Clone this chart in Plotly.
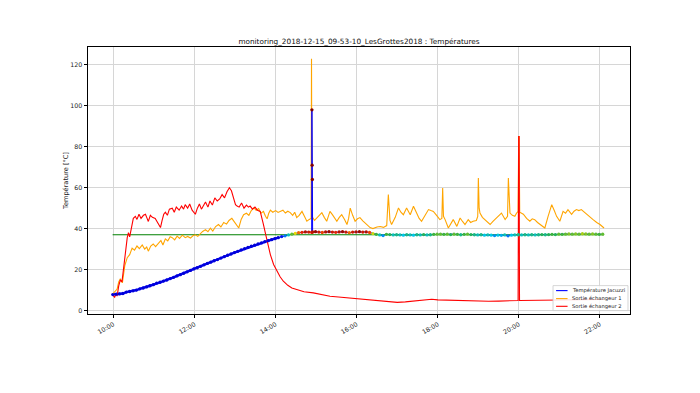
import pandas as pd
import plotly.graph_objects as go

DAY = "2018-12-15"
TITLE = "monitoring_2018-12-15_09-53-10_LesGrottes2018 : Températures"
Y_LABEL = "Température [°C]"
NAMES = ["Température Jacuzzi", "Sortie échangeur 1", "Sortie échangeur 2"]
COLORS = ["blue", "orange", "red"]
TICK_HOURS = ["10:00", "12:00", "14:00", "16:00", "18:00", "20:00", "22:00"]
Y_TICKS = [0, 20, 40, 60, 80, 100, 120]

# Jacuzzi temperature, one sample every 5 minutes from 09:59
jac_start = "09:59"
jac_vals = [
    7.8, 8.0, 8.1, 8.3, 9.0, 9.3, 9.6, 10.0, 10.6, 11.0,
    11.5, 12.1, 12.6, 13.4, 13.8, 14.4, 14.9, 15.6, 16.2, 16.9,
    17.5, 18.2, 18.9, 19.6, 20.3, 20.9, 21.6, 22.3, 23.0, 23.6,
    24.3, 24.9, 25.6, 26.3, 27.0, 27.6, 28.3, 28.9, 29.6, 30.2,
    30.8, 31.4, 31.9, 32.5, 33.0, 33.6, 34.1, 34.6, 35.1, 35.6,
    36.1, 36.5, 36.9, 37.3, 37.7, 38.0, 38.2, 38.4, 38.3, 38.2,
    38.5, 38.3, 38.1, 38.4, 38.5, 38.3, 38.2, 38.4, 38.5, 38.3,
    38.0, 38.3, 38.4, 38.5, 38.3, 38.4, 38.1, 37.6, 37.2, 36.9,
    36.6, 37.2, 37.1, 36.9, 37.0, 36.9, 36.8, 37.0, 36.9, 36.8,
    37.0, 36.9, 37.1, 36.9, 37.0, 37.2, 37.3, 37.3, 37.2, 37.3,
    37.1, 37.3, 37.2, 37.0, 37.2, 37.3, 37.1, 37.0, 36.9, 37.0,
    36.8, 36.9, 36.8, 36.6, 36.8, 36.7, 36.9, 36.5, 36.8, 36.9,
    37.0, 36.9, 37.0, 36.9, 37.0, 36.9, 37.0, 37.1, 37.0, 37.1,
    37.2, 37.1, 37.3, 37.2, 37.3, 37.4, 37.3, 37.4, 37.3, 37.5,
    37.4, 37.3, 37.4, 37.3, 37.2, 37.3,
]
jac_heating_samples = 50  # samples before the set-point is reached (thick part)

# short spike of the jacuzzi probe around 14:54
jac_spike_hours = [14.889, 14.895, 14.900, 14.906, 14.912]
jac_spike_vals = [38.2, 98.0, 71.0, 64.0, 38.4]

# set-point
consigne_hours = [9.98, 22.10]
consigne_vals = [37.0, 37.0]

ech1_hours = [
    9.98, 10.03, 10.09, 10.13, 10.17, 10.22, 10.28, 10.34, 10.40, 10.46,
    10.52, 10.58, 10.64, 10.71, 10.77, 10.82, 10.86, 10.92, 10.98, 11.04,
    11.11, 11.17, 11.22, 11.28, 11.34, 11.40, 11.45, 11.51, 11.57, 11.63,
    11.70, 11.77, 11.83, 11.90, 11.96, 12.02, 12.08, 12.14, 12.20, 12.27,
    12.33, 12.39, 12.45, 12.52, 12.59, 12.65, 12.72, 12.79, 12.85, 12.92,
    12.98, 13.04, 13.09, 13.15, 13.21, 13.28, 13.34, 13.40, 13.46, 13.52,
    13.58, 13.64, 13.70, 13.75, 13.79, 13.83, 13.87, 13.93, 14.00, 14.06,
    14.11, 14.18, 14.24, 14.30, 14.36, 14.42, 14.47, 14.52, 14.58, 14.65,
    14.71, 14.77, 14.83, 14.875, 14.885, 14.895, 14.96, 15.02, 15.08, 15.14,
    15.20, 15.26, 15.30, 15.34, 15.40, 15.46, 15.51, 15.57, 15.63, 15.70,
    15.76, 15.80, 15.84, 15.90, 15.96, 16.02, 16.08, 16.15, 16.25, 16.33,
    16.40, 16.50, 16.58, 16.66, 16.74, 16.78, 16.82, 16.86, 16.95, 17.03,
    17.09, 17.15, 17.23, 17.32, 17.40, 17.48, 17.54, 17.60, 17.68, 17.77,
    17.83, 17.89, 17.97, 18.05, 18.10, 18.12, 18.14, 18.18, 18.26, 18.32,
    18.38, 18.47, 18.55, 18.61, 18.67, 18.75, 18.81, 18.87, 18.95, 18.985,
    19.00, 19.02, 19.04, 19.10, 19.16, 19.22, 19.29, 19.36, 19.45, 19.51,
    19.57, 19.66, 19.72, 19.74, 19.76, 19.78, 19.84, 19.90, 19.94, 19.98,
    19.995, 20.005, 20.02, 20.11, 20.19, 20.27, 20.33, 20.39, 20.46, 20.52,
    20.58, 20.64, 20.72, 20.81, 20.87, 20.93, 21.01, 21.09, 21.15, 21.21,
    21.30, 21.36, 21.42, 21.48, 21.54, 21.60, 21.67, 21.75, 21.83, 21.92,
    22.00, 22.10,
]
ech1_vals = [
    8.0, 9.4, 10.5, 14.0, 15.5, 13.5, 22.0, 25.8, 27.3, 30.5,
    29.5, 31.5, 30.2, 32.0, 30.0, 31.0, 29.0, 31.5, 32.5, 31.2,
    33.0, 34.2, 32.0, 35.0, 34.0, 36.0, 35.6, 34.5, 36.3, 35.2,
    36.8, 35.6, 36.2, 35.4, 36.5, 37.0, 36.2, 37.5, 38.6, 39.5,
    38.5, 40.2, 38.8, 41.0, 42.0, 40.8, 43.0, 42.2, 44.0, 45.0,
    43.5, 41.5, 40.3, 44.5, 46.8, 47.5, 46.5, 48.8, 50.1, 49.0,
    49.8, 47.5, 48.4, 46.0, 44.8, 47.5, 49.0, 48.0, 48.8, 47.9,
    48.4, 49.0, 47.6, 48.5, 47.8, 46.5, 48.0, 45.4, 46.5, 48.4,
    46.0, 43.6, 44.5, 45.0, 123.0, 46.0, 44.0, 45.4, 46.5, 47.8,
    45.5, 43.6, 46.0, 48.4, 46.8, 45.0, 43.6, 45.5, 46.8, 44.5,
    42.0, 45.0, 50.0, 46.5, 43.6, 44.8, 45.4, 43.8, 42.0, 40.5,
    40.0, 40.8, 41.0, 40.6, 41.5, 56.6, 44.0, 42.0, 45.5, 50.1,
    48.0, 46.8, 50.1, 46.8, 50.9, 47.6, 45.0, 43.6, 46.5, 49.3,
    48.8, 48.4, 46.5, 44.4, 45.0, 59.8, 46.0, 44.4, 40.3, 42.5,
    44.4, 41.1, 45.2, 43.5, 42.0, 44.4, 43.0, 43.6, 44.0, 46.0,
    64.7, 50.0, 47.6, 45.5, 44.4, 43.0, 42.0, 43.5, 45.2, 46.5,
    47.6, 44.4, 46.0, 64.7, 49.0, 47.6, 46.5, 46.0, 47.5, 48.4,
    85.0, 85.0, 48.0, 47.0, 45.0, 43.6, 44.8, 44.4, 43.0, 42.0,
    41.0, 40.3, 46.0, 51.7, 49.0, 46.0, 43.6, 48.4, 47.5, 49.3,
    47.0, 48.5, 49.3, 48.8, 49.3, 48.2, 47.0, 45.8, 44.4, 43.0,
    42.0, 40.3,
]

ech2_hours = [
    9.98, 10.03, 10.07, 10.09, 10.13, 10.17, 10.21, 10.26, 10.30, 10.34,
    10.37, 10.40, 10.44, 10.49, 10.54, 10.58, 10.63, 10.68, 10.74, 10.79,
    10.83, 10.86, 10.91, 10.96, 11.03, 11.08, 11.12, 11.16, 11.20, 11.24,
    11.28, 11.33, 11.38, 11.45, 11.50, 11.55, 11.62, 11.68, 11.73, 11.77,
    11.83, 11.88, 11.94, 11.98, 12.02, 12.07, 12.12, 12.17, 12.22, 12.27,
    12.33, 12.38, 12.44, 12.50, 12.56, 12.62, 12.68, 12.74, 12.80, 12.86,
    12.91, 12.96, 13.01, 13.05, 13.10, 13.16, 13.22, 13.28, 13.33, 13.37,
    13.43, 13.49, 13.55, 13.62, 13.66, 13.70, 13.75, 13.79, 13.87, 13.95,
    14.03, 14.11, 14.19, 14.30, 14.40, 14.52, 14.70, 14.93, 15.15, 15.34,
    15.55, 15.76, 15.95, 16.17, 16.40, 16.58, 16.80, 17.00, 17.20, 17.45,
    17.70, 17.85, 18.00, 18.25, 18.50, 18.75, 19.00, 19.25, 19.50, 19.75,
    19.98, 19.995, 20.005, 20.015, 20.25, 20.50, 20.75, 21.00, 21.25, 21.50,
    21.75, 22.00, 22.10,
]
ech2_vals = [
    7.5, 6.5, 8.5, 7.0, 12.0, 15.0, 14.0, 22.0, 30.0, 35.6,
    38.0, 36.0, 40.0, 45.0, 46.0, 44.5, 47.0, 45.0, 46.5, 47.0,
    45.0, 43.5, 46.5, 45.5, 45.0, 43.0, 41.5, 40.5, 44.0, 47.0,
    48.0, 46.5, 49.5, 50.0, 48.0, 50.5, 49.0, 51.0, 49.5, 51.7,
    50.0, 52.0, 49.0, 48.0, 47.0, 50.0, 52.0, 49.5, 51.0, 53.0,
    50.5, 53.5, 51.5, 55.0, 53.5, 54.5, 56.6, 55.0, 58.0, 60.0,
    58.5, 55.0, 51.7, 51.0, 50.5, 52.5, 50.0, 51.5, 50.5, 51.0,
    49.5, 50.5, 49.0, 48.4, 45.5, 42.0, 37.5, 33.8, 27.3, 22.5,
    19.2, 16.5, 14.3, 12.3, 11.0, 10.2, 9.2, 8.6, 7.6, 7.0,
    6.6, 6.2, 5.8, 5.4, 4.9, 4.5, 4.2, 4.0, 4.2, 4.6,
    5.2, 5.5, 5.2, 5.0, 4.8, 4.6, 4.5, 4.5, 4.6, 4.8,
    4.9, 85.0, 85.0, 4.9, 5.0, 5.0, 5.1, 5.2, 5.2, 5.3,
    5.3, 5.4, 5.4,
]


def to_time(hours):
    return pd.Timestamp(DAY) + pd.to_timedelta(hours, unit="h")


jac_time = list(pd.date_range(f"{DAY} {jac_start}", periods=len(jac_vals), freq="5min"))
jac_spike_time = list(to_time(jac_spike_hours))

jet_like = [
    [0.0, "rgb(0,0,215)"], [0.12, "rgb(0,40,255)"], [0.33, "rgb(0,200,235)"],
    [0.46, "rgb(40,175,70)"], [0.66, "rgb(235,225,0)"], [0.84, "rgb(240,40,0)"],
    [1.0, "rgb(130,0,0)"],
]

fig = go.Figure()

# jacuzzi line (thick while heating, thin afterwards), under the set-point line
n = jac_heating_samples
fig.add_trace(go.Scatter(x=jac_time[:n], y=jac_vals[:n], mode="lines",
                         line=dict(color=COLORS[0], width=2.4), showlegend=False))
fig.add_trace(go.Scatter(x=jac_time[n - 1:], y=jac_vals[n - 1:], mode="lines",
                         line=dict(color=COLORS[0], width=1), showlegend=False))

fig.add_trace(go.Scatter(
    x=to_time(consigne_hours), y=consigne_vals, mode="lines",
    line=dict(color="green", width=1.1), showlegend=False, hoverinfo="skip"))

fig.add_trace(go.Scatter(
    x=to_time(ech1_hours), y=ech1_vals, mode="lines", name=NAMES[1],
    line=dict(color=COLORS[1], width=1.1), showlegend=False))

fig.add_trace(go.Scatter(
    x=to_time(ech2_hours), y=ech2_vals, mode="lines", name=NAMES[2],
    line=dict(color=COLORS[2], width=1.1), showlegend=False))

fig.add_trace(go.Scatter(
    x=jac_spike_time, y=jac_spike_vals, mode="lines",
    line=dict(color=COLORS[0], width=1), showlegend=False))

fig.add_trace(go.Scatter(
    x=jac_time + jac_spike_time, y=jac_vals + jac_spike_vals,
    mode="markers", showlegend=False,
    marker=dict(size=3.3, color=jac_vals + jac_spike_vals, colorscale=jet_like,
                cmin=35.9, cmax=38.6, line=dict(width=0))))

font = "DejaVu Sans, sans-serif"
axis_common = dict(
    showline=True, linecolor="black", linewidth=0.8, mirror=True,
    ticks="outside", ticklen=3.5, tickwidth=0.8, tickcolor="black",
    showgrid=True, gridcolor="#d6d6d6", gridwidth=0.8, zeroline=False,
    tickfont=dict(family=font, size=6.3, color="#222222"),
)

# hand-made matplotlib-style legend (lower right, compact)
shapes = [dict(type="rect", xref="paper", yref="paper", x0=0.858, x1=0.9963,
               y0=0.0127, y1=0.1063, line=dict(color="#cccccc", width=0.8),
               fillcolor="rgba(255,255,255,0.85)", layer="above")]
annotations = []
legend_y = [0.0876, 0.0576, 0.0288]
for name, color, yy in zip(NAMES, COLORS, legend_y):
    shapes.append(dict(type="line", xref="paper", yref="paper", x0=0.8636, x1=0.8848,
                       y0=yy, y1=yy, line=dict(color=color, width=1.1), layer="above"))
    annotations.append(dict(text=name, xref="paper", yref="paper", x=0.8894, y=yy,
                            xanchor="left", yanchor="middle", showarrow=False,
                            font=dict(family=font, size=5.2, color="#222222")))

fig.update_layout(
    width=700, height=393,
    margin=dict(l=87.5, r=70, t=47.2, b=78.6),
    paper_bgcolor="white", plot_bgcolor="white",
    title=dict(text=TITLE, x=0.5, xref="paper", y=1 - 41 / 393, yref="container",
               yanchor="middle", font=dict(family=font, size=7.3, color="#111111")),
    xaxis=dict(type="date", range=[f"{DAY} 09:22:20", f"{DAY} 22:44:25"],
               tickvals=[f"{DAY} {h}" for h in TICK_HOURS], ticktext=TICK_HOURS,
               tickangle=-30, **axis_common),
    yaxis=dict(range=[-1.7, 128.7], tickvals=Y_TICKS,
               title=dict(text=Y_LABEL, font=dict(family=font, size=6.6, color="#222222"),
                          standoff=0),
               **axis_common),
    shapes=shapes,
    annotations=annotations,
    showlegend=False,
)

fig.write_html("out.html", config={"displayModeBar": False},
               post_script="document.body.style.margin='0px';")
